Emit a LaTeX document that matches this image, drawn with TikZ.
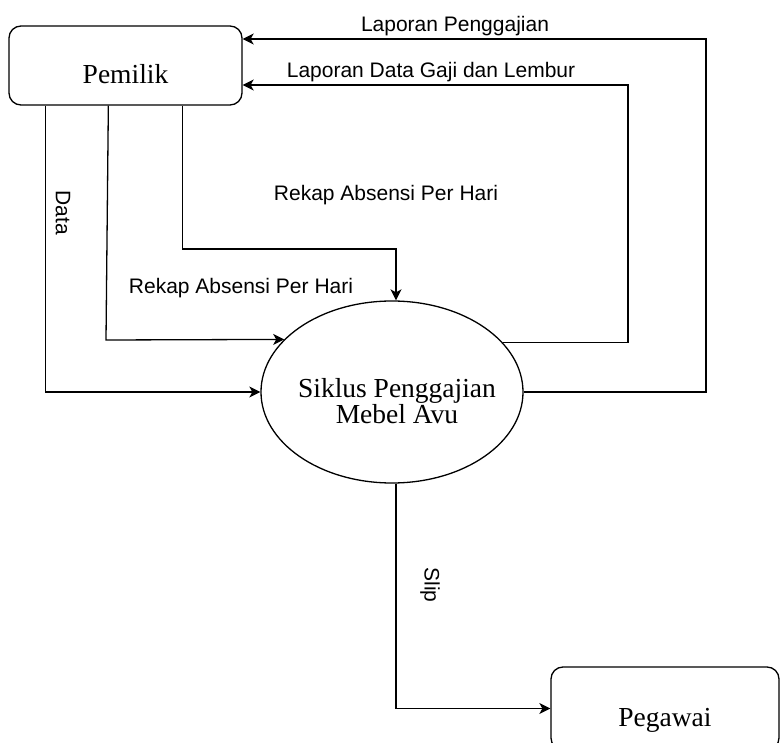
\documentclass[tikz,border=0pt]{standalone}
\usepackage{fontspec}
\setmainfont{Liberation Serif}
\newfontfamily\labfont{Liberation Sans}
\usetikzlibrary{shapes.geometric,arrows.meta,calc}
\tikzset{
  ent/.style={draw,line width=1.3pt,rounded corners=12pt,inner sep=0pt,
    font=\fontsize{27.5}{30}\selectfont,text height=36pt,text depth=0pt},
  proc/.style={draw,ellipse,line width=1.3pt,inner sep=0pt},
  ptext/.style={align=center,font=\fontsize{27.5}{26}\selectfont},
  flow/.style={line width=1.3pt,-{Stealth[length=11pt,width=11pt,inset=3pt]}},
  lbl/.style={font=\labfont\fontsize{21}{24}\selectfont,inner sep=0pt},
}
\begin{document}
\begin{tikzpicture}[x=1pt,y=-1pt]
\clip (0,0) rectangle (780,743);
\fill[white] (0,0) rectangle (780,743);
% nodes
\node[ent,minimum width=233pt,minimum height=79pt] (pem) at (125.5,65.5) {Pemilik};
\node[ent,minimum width=228pt,minimum height=83pt] (peg) at (665,708.5) {Pegawai};
\node[proc,minimum width=262pt,minimum height=182pt] (proc) at (392,392) {};
\node[ptext] (proctxt) at ($(proc.center)+(5,9)$) {Siklus Penggajian\\Mebel Avu};
% helper points
\coordinate (r2) at (106,340);
\coordinate (k1) at (396,249);
\coordinate (c2) at (628,85);
\coordinate (c1) at (706,39);
% connectors
\draw[flow] ([xshift=37pt]pem.south west) |- (proc.west);
\draw[flow] ([xshift=100pt]pem.south west) -- (r2) -- (proc.154);
\draw[flow] ([xshift=174pt]pem.south west) |- (k1) -- (k1 |- proc.north);
\draw[flow] (proc.24) -| (c2) -- (c2 -| pem.east);
\draw[flow] (proc.east) -| (c1) -- (c1 -| pem.east);
\draw[flow] ([xshift=4pt]proc.south) |- (peg.west);
% labels
\node[lbl,anchor=base] (l1) at (455,32) {Laporan Penggajian};
\node[lbl,anchor=base] (l2) at (431,78) {Laporan Data Gaji dan Lembur};
\node[lbl,anchor=base] (l3) at (386,201) {Rekap Absensi Per Hari};
\node[lbl,anchor=base] (l4) at (241,294) {Rekap Absensi Per Hari};
\node[lbl,rotate=-90] (l5) at (63,213) {Data};
\node[lbl,rotate=-90] (l6) at (430,585) {Slip};
\end{tikzpicture}
\end{document}
